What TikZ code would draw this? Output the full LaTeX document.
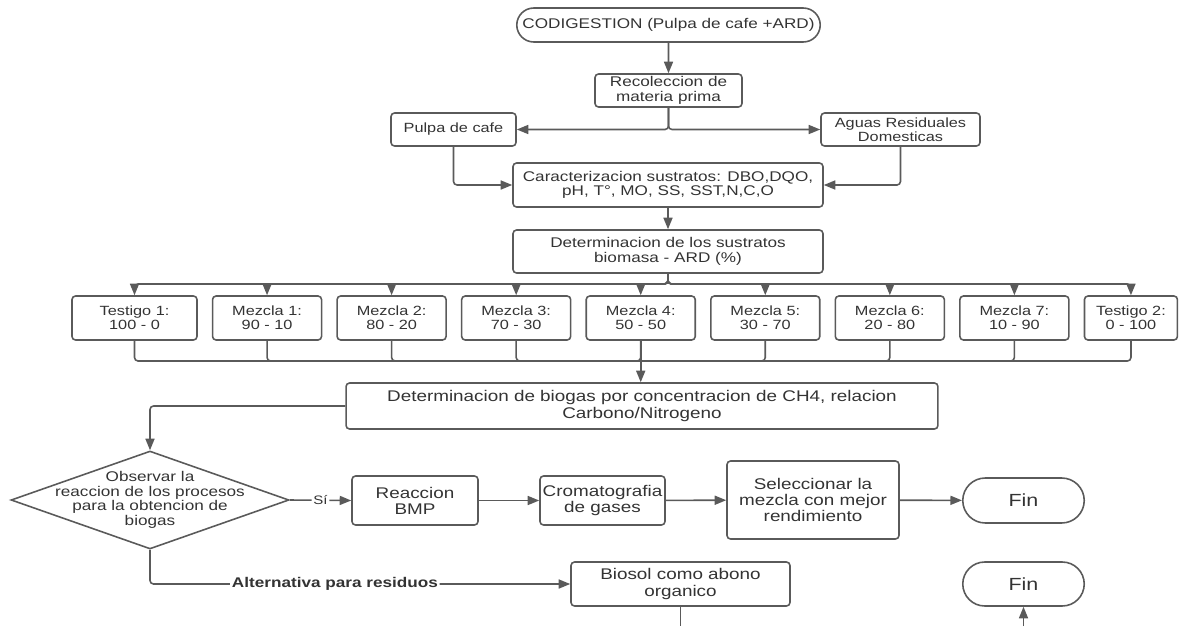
\documentclass[tikz,border=0pt]{standalone}
\usepackage{fontspec}
\setmainfont[FakeStretch=1.22]{Liberation Sans}
\usetikzlibrary{shapes.geometric, shapes.misc, arrows.meta, positioning}
\definecolor{linegray}{HTML}{5A5A5A}
\definecolor{txtgray}{HTML}{333333}

\begin{document}
\begin{tikzpicture}[
    x=0.02cm, y=-0.02cm,
    every node/.style={font=\fontsize{8}{8.3}\selectfont, text=txtgray},
    bigtxt/.style={font=\fontsize{8.8}{9.2}\selectfont},
    smalltxt/.style={font=\fontsize{7.6}{8.1}\selectfont},
    box/.style={rectangle, draw=linegray, line width=0.9pt, rounded corners=2pt, align=center, inner sep=1pt, minimum height=0.66cm},
    mix/.style={box, smalltxt, minimum width=2.18cm, minimum height=0.88cm},
    term/.style={rounded rectangle, draw=linegray, line width=0.9pt, minimum height=0.68cm, inner sep=1pt},
    decision/.style={diamond, draw=linegray, line width=0.9pt, minimum width=5.56cm, minimum height=1.96cm, inner sep=0pt},
    link/.style={draw=linegray, line width=0.9pt, rounded corners=2pt},
    arrow/.style={link, -{Triangle[length=2.3mm, width=1.8mm]}},
    tag/.style={fill=white, inner sep=1pt}
  ]
    \useasboundingbox (0,0) rectangle (1184,626);
    % Nodes
    \node[term, minimum width=6.14cm] (codig) at (668.5,25) {CODIGESTION (Pulpa de cafe +ARD)};
    \node[box, minimum width=2.94cm] (recol) at (668.5,90.5) {Recoleccion de\\materia prima};
    \node[box, smalltxt, minimum width=2.5cm] (pulpa) at (453.5,129.5) {Pulpa de cafe};
    \node[box, smalltxt, minimum width=3.18cm] (aguas) at (900.5,129.5) {Aguas Residuales\\Domesticas};
    \node[box, minimum width=6.2cm, minimum height=0.88cm] (caract) at (668,185) {Caracterizacion sustratos: DBO,DQO,\\pH, T°, MO, SS, SST,N,C,O};
    \node[box, minimum width=6.2cm, minimum height=0.86cm] (detsus) at (668,251.5) {Determinacion de los sustratos\\biomasa - ARD (\%)};
    % Mixtures
    \node[mix, minimum width=2.5cm] (t1) at (134.5,318) {Testigo 1:\\100 - 0};
    \node[mix, right=0.28cm of t1] (m1) {Mezcla 1:\\90 - 10};
    \node[mix, right=0.28cm of m1] (m2) {Mezcla 2:\\80 - 20};
    \node[mix, right=0.28cm of m2] (m3) {Mezcla 3:\\70 - 30};
    \node[mix, right=0.28cm of m3] (m4) {Mezcla 4:\\50 - 50};
    \node[mix, right=0.28cm of m4] (m5) {Mezcla 5:\\30 - 70};
    \node[mix, right=0.28cm of m5] (m6) {Mezcla 6:\\20 - 80};
    \node[mix, right=0.28cm of m6] (m7) {Mezcla 7:\\10 - 90};
    \node[mix, minimum width=1.86cm, right=0.28cm of m7] (t2) {Testigo 2:\\0 - 100};
    \node[box, bigtxt, minimum width=11.84cm, minimum height=0.92cm] (detbio) at (642,406) {Determinacion de biogas por concentracion de CH4, relacion\\Carbono/Nitrogeno};
    % Decision and outcomes
    \node[decision] (obs) at (150,500) {};
    \node[align=center] (obstext) at (obs.center) {Observar la\\reaccion de los procesos\\para la obtencion de\\biogas};
    \node[box, bigtxt, minimum width=2.52cm, minimum height=0.98cm] (bmp) at (415,500.5) {Reaccion\\BMP};
    \node[box, bigtxt, minimum width=2.5cm, minimum height=0.98cm] (croma) at (602.5,500.5) {Cromatografia\\de gases};
    \node[box, bigtxt, minimum width=3.44cm, minimum height=1.56cm] (selec) at (813,500) {Seleccionar la\\mezcla con mejor\\rendimiento};
    \node[term, minimum width=2.5cm, minimum height=0.9cm, font=\fontsize{10}{11}\selectfont] (fin1) at (1023.5,500.5) {Fin};
    \node[box, bigtxt, minimum width=4.38cm, minimum height=0.88cm] (biosol) at (680.5,584) {Biosol como abono\\organico};
    \node[term, minimum width=2.5cm, minimum height=0.88cm, font=\fontsize{10}{11}\selectfont] (fin2) at (1023.5,584) {Fin};
    % Bus points and cut ends
    \coordinate (bustop) at (668,284);
    \coordinate (busbot) at (640.5,361);
    \coordinate (cutA) at (680.5,626);
    \coordinate (cutB) at (1023.5,626);
    % Arrows (main flow)
    \draw[arrow] (codig) -- (recol);
    \draw[arrow] (recol.south) |- (pulpa.east);
    \draw[arrow] (recol.south) |- (aguas.west);
    \draw[arrow] (pulpa.south) |- (caract.west);
    \draw[arrow] (aguas.south) |- (caract.east);
    \draw[arrow] (caract) -- (detsus);
    \foreach \n in {t1,m1,m2,m3,m4,m5,m6,m7,t2}
      \draw[arrow] (detsus.south) -- (bustop) -| (\n.north);
    \foreach \n in {t1,m1,m2,m3,m4,m5,m6,m7,t2}
      \draw[link] (\n.south) |- (busbot);
    \draw[arrow] (m4.south) -- (m4.south |- detbio.north);
    % Decision branch
    \draw[arrow] (detbio.west) -| (obs.north);
    \draw[arrow] (obs.east) -- node[tag, font=\fontsize{7}{8}\selectfont] {Sí} (bmp.west);
    \draw[arrow] (bmp) -- (croma);
    \draw[arrow] (croma) -- (selec);
    \draw[arrow] (selec) -- (fin1);
    \draw[arrow] (obs.south) |- node[tag, pos=0.72, font=\fontsize{8}{8.3}\selectfont\bfseries] {Alternativa para residuos} (biosol.west);
    \draw[link] (biosol.south) -- (cutA);
    \draw[arrow] (cutB) -- (fin2.south);
  \end{tikzpicture}
\end{document}
